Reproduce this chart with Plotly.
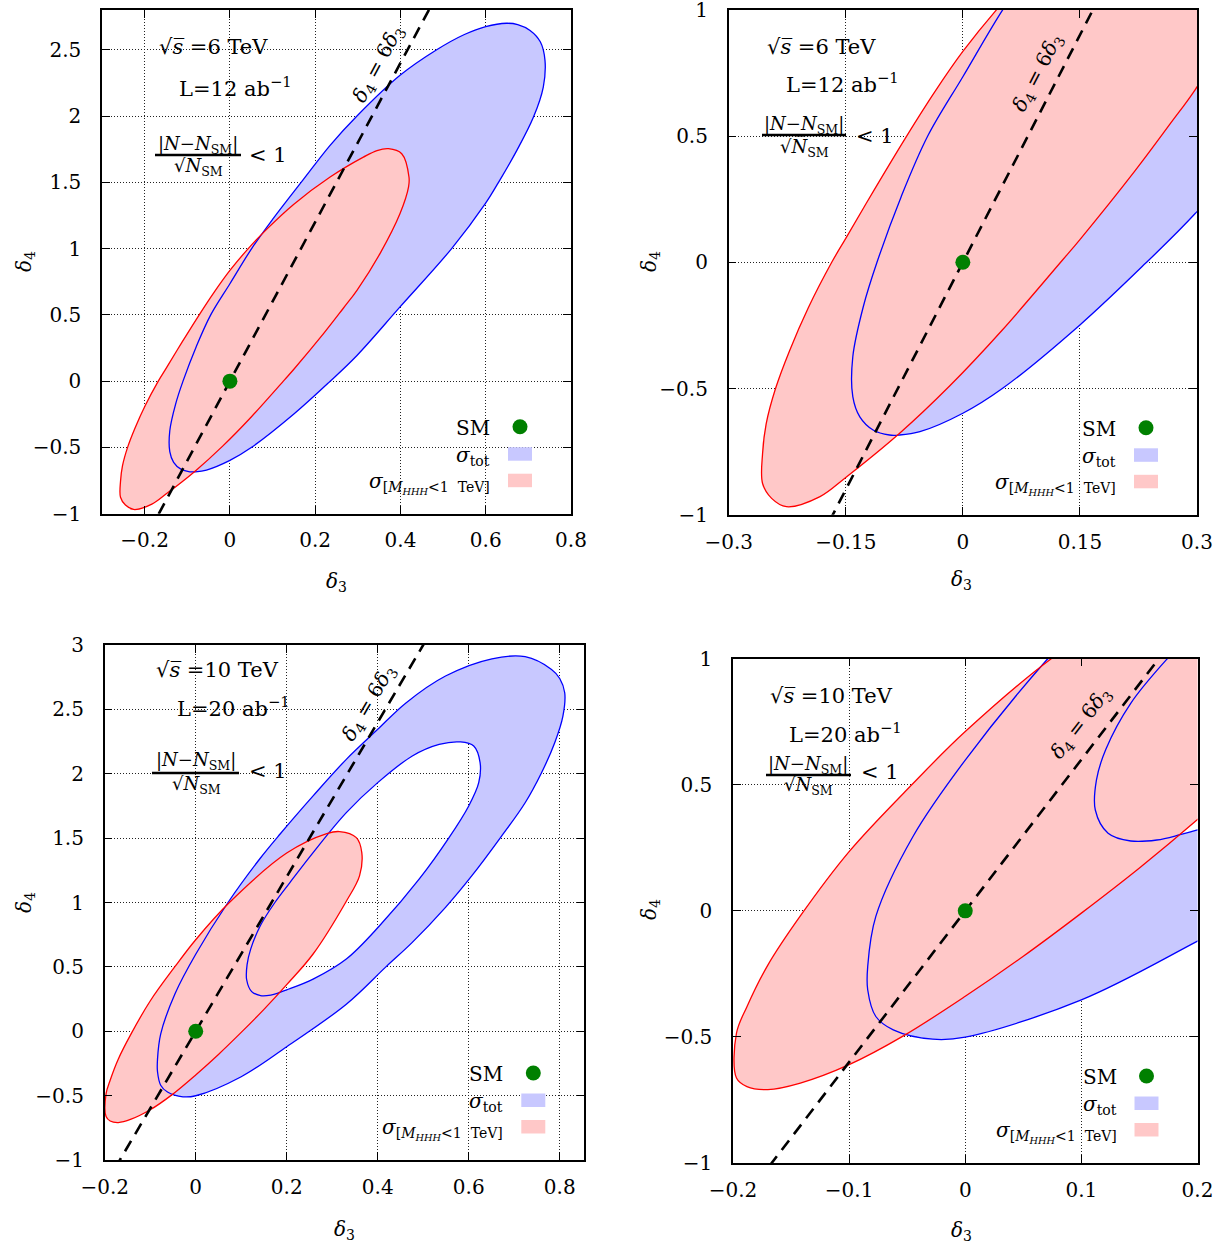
import plotly.graph_objects as go

W, H = 1226, 1246
FONT = "DejaVu Serif"

# ---------------- data ----------------
# sqrt(s)=6 TeV, L=12 ab^-1 : sigma_tot region boundary (counter-clockwise)
d3_blue6 = [-0.094, -0.081, -0.055, 0.000, 0.051, 0.150, 0.234, 0.298, 0.399, 0.520,
            0.599, 0.630, 0.673, 0.712, 0.735, 0.739, 0.728, 0.704, 0.675, 0.649,
            0.600, 0.550, 0.485, 0.399, 0.298, 0.235, 0.172, 0.100, 0.051,
            0.000, -0.045, -0.079, -0.110, -0.1275, -0.141, -0.141, -0.132, -0.115]
d4_blue6 = [-0.684, -0.684, -0.671, -0.598, -0.499, -0.248, -0.004, 0.194, 0.560, 1.000,
            1.339, 1.500, 1.741, 1.992, 2.219, 2.420, 2.560, 2.646, 2.690, 2.700,
            2.675, 2.615, 2.500, 2.307, 2.000, 1.779, 1.520, 1.220, 1.000,
            0.735, 0.500, 0.260, 0.000, -0.175, -0.374, -0.532, -0.612, -0.664]

# sqrt(s)=6 TeV : sigma[M_HHH<1 TeV] region boundary
d3_red6 = [-0.226, -0.183, -0.150, -0.081, -0.017, 0.050, 0.128, 0.150, 0.220, 0.266,
           0.298, 0.352, 0.399, 0.419, 0.420, 0.403, 0.372, 0.345, 0.313, 0.235,
           0.150, 0.086, 0.043, 0.000, -0.036, -0.072, -0.113, -0.150, -0.168, -0.198,
           -0.222, -0.240, -0.252, -0.2566, -0.2566, -0.245]
d4_red6 = [-0.968, -0.928, -0.852, -0.677, -0.490, -0.270, 0.010, 0.090, 0.360, 0.550,
           0.685, 0.962, 1.264, 1.465, 1.540, 1.716, 1.754, 1.740, 1.690, 1.540,
           1.335, 1.145, 1.000, 0.835, 0.675, 0.500, 0.290, 0.095, 0.000, -0.180,
           -0.350, -0.500, -0.640, -0.757, -0.876, -0.935]

# sqrt(s)=10 TeV, L=20 ab^-1 : sigma_tot ring, outer boundary
d3_blue10_out = [-0.028, 0.000, 0.100, 0.200, 0.331, 0.418, 0.476, 0.549, 0.607, 0.669,
                 0.724, 0.760, 0.789, 0.807, 0.811, 0.800, 0.782, 0.724, 0.651, 0.549,
                 0.462, 0.400, 0.331, 0.258, 0.185, 0.141, 0.071, 0.000, -0.045, -0.077,
                 -0.084, -0.084, -0.077, -0.062]
d4_blue10_out = [-0.509, -0.501, -0.353, -0.120, 0.210, 0.500, 0.690, 0.962, 1.208, 1.500,
                 1.775, 2.008, 2.241, 2.448, 2.629, 2.740, 2.810, 2.909, 2.893, 2.759,
                 2.550, 2.345, 2.112, 1.828, 1.530, 1.340, 1.000, 0.598, 0.295, -0.022,
                 -0.221, -0.313, -0.419, -0.472]
# sigma_tot ring, inner boundary (hole)
d3_blue10_in = [0.1425, 0.165, 0.185, 0.200, 0.258, 0.331, 0.404, 0.491, 0.556, 0.600,
                0.622, 0.625, 0.611, 0.582, 0.535, 0.476, 0.400, 0.331, 0.258, 0.207,
                0.174, 0.1425, 0.121, 0.113, 0.112, 0.123]
d4_blue10_in = [0.277, 0.281, 0.302, 0.321, 0.405, 0.561, 0.819, 1.181, 1.500, 1.750,
                1.931, 2.086, 2.216, 2.247, 2.228, 2.138, 1.931, 1.698, 1.388, 1.155,
                1.000, 0.823, 0.640, 0.519, 0.400, 0.308]

# sqrt(s)=10 TeV : sigma[M_HHH<1 TeV] region boundary
d3_red10 = [-0.170, -0.142, -0.100, -0.054, 0.000, 0.050, 0.100, 0.150, 0.200, 0.258,
            0.331, 0.360, 0.365, 0.353, 0.316, 0.288, 0.200, 0.074, 0.000, -0.045,
            -0.100, -0.142, -0.170, -0.188, -0.197, -0.197, -0.188]
d4_red10 = [-0.709, -0.683, -0.610, -0.498, -0.339, -0.180, -0.009, 0.170, 0.362, 0.600,
            1.010, 1.207, 1.388, 1.504, 1.551, 1.535, 1.384, 1.000, 0.711, 0.505,
            0.235, -0.020, -0.215, -0.380, -0.485, -0.663, -0.697]

sm_d3 = [0.0]
sm_d4 = [0.0]
line_slope = 6  # delta4 = 6 delta3

# tick values / labels
xt_p1 = [-0.2, 0, 0.2, 0.4, 0.6, 0.8]
xl_p1 = ["\u22120.2", "0", "0.2", "0.4", "0.6", "0.8"]
yt_p1 = [-1, -0.5, 0, 0.5, 1, 1.5, 2, 2.5]
yl_p1 = ["\u22121", "\u22120.5", "0", "0.5", "1", "1.5", "2", "2.5"]
xt_p2 = [-0.3, -0.15, 0, 0.15, 0.3]
xl_p2 = ["\u22120.3", "\u22120.15", "0", "0.15", "0.3"]
yt_p2 = [-1, -0.5, 0, 0.5, 1]
yl_p2 = ["\u22121", "\u22120.5", "0", "0.5", "1"]
xt_p3 = [-0.2, 0, 0.2, 0.4, 0.6, 0.8]
xl_p3 = ["\u22120.2", "0", "0.2", "0.4", "0.6", "0.8"]
yt_p3 = [-1, -0.5, 0, 0.5, 1, 1.5, 2, 2.5, 3]
yl_p3 = ["\u22121", "\u22120.5", "0", "0.5", "1", "1.5", "2", "2.5", "3"]
xt_p4 = [-0.2, -0.1, 0, 0.1, 0.2]
xl_p4 = ["\u22120.2", "\u22120.1", "0", "0.1", "0.2"]
yt_p4 = [-1, -0.5, 0, 0.5, 1]
yl_p4 = ["\u22121", "\u22120.5", "0", "0.5", "1"]

energy_txt = ["6", "6", "10", "10"]
lumi_txt = ["12", "12", "20", "20"]

# ---------------- helpers ----------------
BLUE_FILL = "#c8c8ff"
RED_FILL = "#ffc8c8"


def closed(a):
    return list(a) + [a[0]]


def ring(outer, inner):
    inn = list(inner)[::-1]
    return closed(outer) + [None] + closed(inn)


blue6 = (closed(d3_blue6), closed(d4_blue6))
red6 = (closed(d3_red6), closed(d4_red6))
blue10 = (ring(d3_blue10_out, d3_blue10_in), ring(d4_blue10_out, d4_blue10_in))
red10 = (closed(d3_red10), closed(d4_red10))

panels = [
    dict(ax="", blue=blue6, red=red6, xr=[-0.3, 0.8], yr=[-1, 2.8], xt=xt_p1, xl=xl_p1, yt=yt_p1, yl=yl_p1,
         pxr=(102, 571), pyr=(10, 513.7), e=energy_txt[0], L=lumi_txt[0],
         te=(213, 47), tl=(235, 87), num=(198, 145), bar=(155, 241, 155), den=(198, 167), lt=(268, 155),
         lab=(0.348, 2.394, -61.8), tx=(336, 582), ty=(25, 262)),
    dict(ax="2", blue=blue6, red=red6, xr=[-0.3, 0.3], yr=[-1, 1], xt=xt_p2, xl=xl_p2, yt=yt_p2, yl=yl_p2,
         pxr=(728.7, 1197), pyr=(9.8, 514.8), e=energy_txt[1], L=lumi_txt[1],
         te=(821, 47), tl=(842, 83), num=(804, 125), bar=(762, 846, 135), den=(804, 148), lt=(875, 136),
         lab=(0.096, 0.749, -62.7), tx=(962, 580), ty=(650, 262)),
    dict(ax="3", blue=blue10, red=red10, xr=[-0.2, 0.854], yr=[-1, 3], xt=xt_p3, xl=xl_p3, yt=yt_p3, yl=yl_p3,
         pxr=(104.7, 584.3), pyr=(645, 1160), e=energy_txt[2], L=lumi_txt[2],
         te=(217, 670), tl=(233, 707), num=(196, 761), bar=(152, 239, 773), den=(196, 785), lt=(268, 771),
         lab=(0.381, 2.548, -59.5), tx=(344, 1230), ty=(25, 903)),
    dict(ax="4", blue=blue10, red=red10, xr=[-0.2, 0.2], yr=[-1, 1], xt=xt_p4, xl=xl_p4, yt=yt_p4, yl=yl_p4,
         pxr=(733, 1197.5), pyr=(658.7, 1163), e=energy_txt[3], L=lumi_txt[3],
         te=(831, 696), tl=(845, 733), num=(808, 765), bar=(766, 851, 775), den=(808, 786), lt=(880, 772),
         lab=(0.0999, 0.744, -52.2), tx=(962, 1231), ty=(650, 910)),
]


def fx(px):
    return px / W


def fy(py):
    return 1 - py / H


def ann(px, py, text, size=20, xanchor="center", yanchor="middle", angle=0):
    return dict(x=fx(px), y=fy(py), xref="paper", yref="paper", text=text, showarrow=False,
                font=dict(family=FONT, size=size, color="black"), xanchor=xanchor, yanchor=yanchor,
                textangle=angle)


fig = go.Figure()
annotations = []
shapes = []
layout = dict(width=W, height=H, margin=dict(l=0, r=0, t=0, b=0, pad=0, autoexpand=False),
              paper_bgcolor="white", plot_bgcolor="white", showlegend=False)

for p in panels:
    xa = "x" + p["ax"]
    ya = "y" + p["ax"]
    common = dict(xaxis=xa, yaxis=ya, hoverinfo="skip")
    # fills
    fig.add_trace(go.Scatter(x=p["blue"][0], y=p["blue"][1], mode="lines", fill="toself",
                             fillcolor=BLUE_FILL, line=dict(width=0, shape="spline", smoothing=1),
                             connectgaps=False, **common))
    fig.add_trace(go.Scatter(x=p["red"][0], y=p["red"][1], mode="lines", fill="toself",
                             fillcolor=RED_FILL, line=dict(width=0, shape="spline", smoothing=1), **common))
    # outlines
    fig.add_trace(go.Scatter(x=p["blue"][0], y=p["blue"][1], mode="lines", connectgaps=False,
                             line=dict(color="#0000ff", width=1.3, shape="spline", smoothing=1), **common))
    fig.add_trace(go.Scatter(x=p["red"][0], y=p["red"][1], mode="lines",
                             line=dict(color="#ff0000", width=1.3, shape="spline", smoothing=1), **common))
    # delta4 = 6 delta3
    lx = [p["xr"][0], p["xr"][1]]
    fig.add_trace(go.Scatter(x=lx, y=[line_slope * v for v in lx], mode="lines",
                             line=dict(color="black", width=2.6, dash="12px,8px"), **common))
    # SM point
    fig.add_trace(go.Scatter(x=sm_d3, y=sm_d4, mode="markers",
                             marker=dict(color="#008000", size=15, line=dict(width=0)), **common))

    axkw = dict(showline=True, linecolor="black", linewidth=1.5, mirror="ticks", ticks="inside",
                ticklen=8, tickwidth=1.2, tickcolor="black", showgrid=True, gridcolor="#222222",
                gridwidth=1, griddash="1px,2px", zeroline=False, automargin=False,
                ticklabeloverflow="allow",
                tickfont=dict(family=FONT, size=20, color="black"), tickmode="array")
    layout["xaxis" + p["ax"]] = dict(axkw, range=p["xr"], tickvals=p["xt"], ticktext=p["xl"],
                                      domain=[fx(p["pxr"][0]), fx(p["pxr"][1])], anchor=ya,
                                      ticklabelstandoff=8)
    layout["yaxis" + p["ax"]] = dict(axkw, range=p["yr"], tickvals=p["yt"], ticktext=p["yl"],
                                      domain=[fy(p["pyr"][1]), fy(p["pyr"][0])], anchor=xa,
                                      ticklabelstandoff=15)

    # axis titles
    annotations.append(ann(p["tx"][0], p["tx"][1], "<i>\u03b4</i><sub>3</sub>"))
    annotations.append(ann(p["ty"][0], p["ty"][1], "<i>\u03b4</i><sub>4</sub>", angle=-90))

    # text block
    annotations.append(ann(p["te"][0], p["te"][1], "\u221a<i>s\u0305</i> =" + p["e"] + " TeV", size=21))
    annotations.append(ann(p["tl"][0], p["tl"][1], "L=" + p["L"] + " ab<sup>\u22121</sup>", size=21))
    annotations.append(ann(p["num"][0], p["num"][1], "|<i>N</i>\u2212<i>N</i><sub>SM</sub>|", size=18))
    annotations.append(ann(p["den"][0], p["den"][1], "\u221a<i>N\u0305</i><sub>SM</sub>", size=18))
    annotations.append(ann(p["lt"][0], p["lt"][1], "&lt; 1", size=21))
    bx0, bx1, by = p["bar"]
    shapes.append(dict(type="line", xref="paper", yref="paper", x0=fx(bx0), x1=fx(bx1), y0=fy(by), y1=fy(by),
                       line=dict(color="black", width=2.5)))

    # rotated line label
    lab = p["lab"]
    annotations.append(dict(x=lab[0], y=lab[1], xref=xa, yref=ya, showarrow=False, textangle=lab[2],
                            text="<i>\u03b4</i><sub>4</sub> = 6<i>\u03b4</i><sub>3</sub>",
                            font=dict(family=FONT, size=20, color="black"),
                            xanchor="center", yanchor="middle"))

    # legend (drawn manually: label then key on the right)
    right = p["pxr"][1]
    bottom = p["pyr"][1]
    annotations.append(ann(right - 79, bottom - 86, "SM", xanchor="right"))
    annotations.append(ann(right - 79, bottom - 58, "<i>\u03c3</i><sub>tot</sub>", xanchor="right"))
    annotations.append(ann(right - 79, bottom - 31,
                           "<i>\u03c3</i><sub>[<i>M</i><sub><i>HHH</i></sub>&lt;1  TeV]</sub>",
                           xanchor="right"))
    shapes.append(dict(type="circle", xref="paper", yref="paper", x0=fx(right - 58.5), x1=fx(right - 43.5),
                       y0=fy(bottom - 79.5), y1=fy(bottom - 94.5), fillcolor="#008000",
                       line=dict(width=0)))
    shapes.append(dict(type="rect", xref="paper", yref="paper", x0=fx(right - 63), x1=fx(right - 39),
                       y0=fy(bottom - 53), y1=fy(bottom - 66.5), fillcolor=BLUE_FILL, line=dict(width=0)))
    shapes.append(dict(type="rect", xref="paper", yref="paper", x0=fx(right - 63), x1=fx(right - 39),
                       y0=fy(bottom - 26.5), y1=fy(bottom - 40), fillcolor=RED_FILL, line=dict(width=0)))

layout["annotations"] = annotations
layout["shapes"] = shapes
fig.update_layout(**layout)
fig.write_html("out.html", config={"displayModeBar": False},
               post_script="document.body.style.margin='0px';document.body.style.overflow='hidden';")
